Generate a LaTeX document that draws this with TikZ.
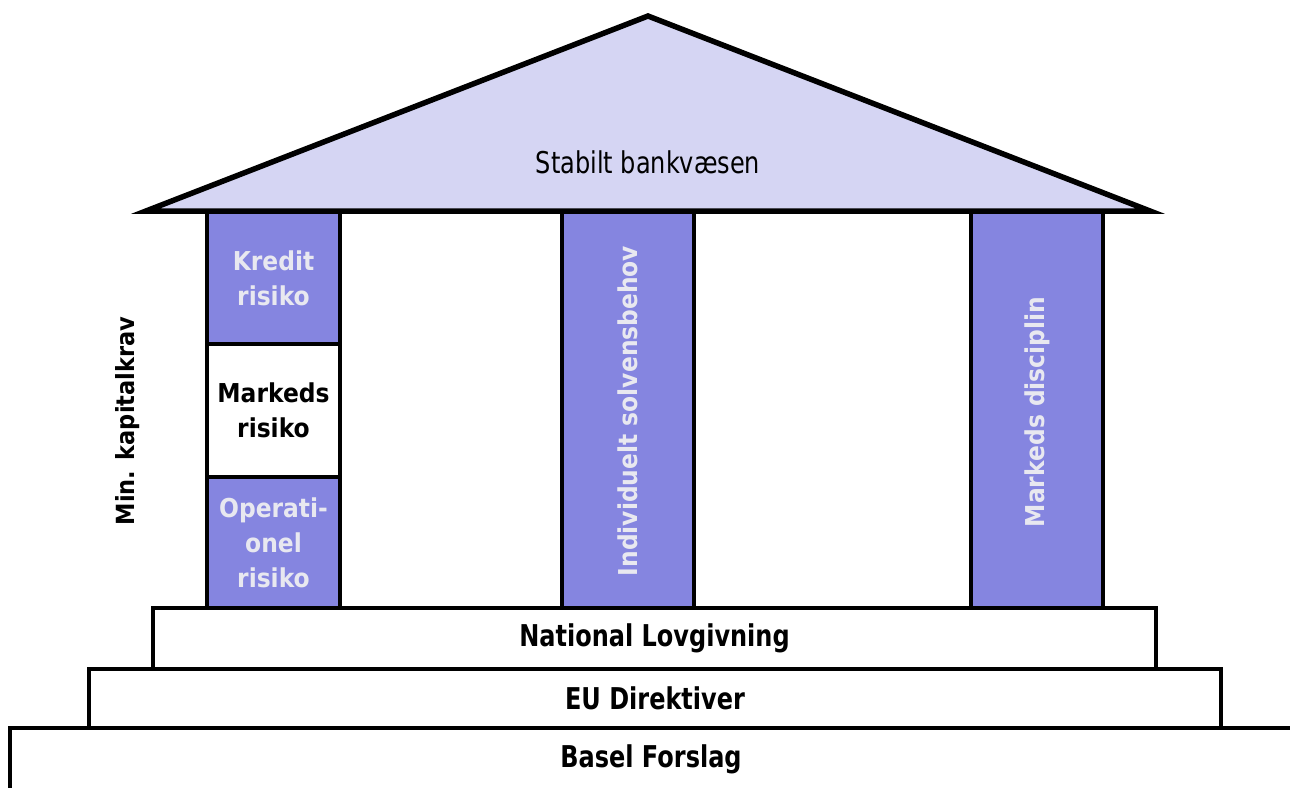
\documentclass[tikz,border=0pt]{standalone}
\usepackage{fontspec}
\setmainfont{DejaVu Sans}
\newfontfamily\condfont[FakeStretch=0.8]{DejaVu Sans}
\newfontfamily\narfont[FakeStretch=0.9]{DejaVu Sans}
\definecolor{roofc}{HTML}{D5D5F3}
\definecolor{colc}{HTML}{8585E0}
\definecolor{coltext}{HTML}{E8E8F0}
\begin{document}
\begin{tikzpicture}[x=1pt,y=-1pt,
  box/.style={draw=black, line width=4.5pt, inner sep=0pt, outer sep=0pt, anchor=north west, align=center},
  basebox/.style={box, fill=white, font=\condfont\fontsize{30}{34}\selectfont\bfseries},
  pillar/.style={box, fill=colc, text=coltext, font=\narfont\fontsize{26}{35}\selectfont\bfseries},
  whitepillar/.style={box, fill=white, text=black, font=\narfont\fontsize{26}{35}\selectfont\bfseries},
  vtext/.style={rotate=90, font=\narfont\fontsize{26}{34}\selectfont\bfseries},
  roofline/.style={draw=black, line width=5.5pt, fill=roofc, line join=miter}]
\useasboundingbox (0,0) rectangle (1290,787);
\clip (0,0) rectangle (1290,787);
% foundations
\node[basebox, minimum width=1300pt, minimum height=80pt] (basel) at (10,728) {};
\node[font=\condfont\fontsize{30}{34}\selectfont\bfseries] (baseltxt) at (651,759) {Basel Forslag};
\node[basebox, minimum width=1132pt, minimum height=59pt] (eu) at (89,669) {EU Direktiver};
\node[basebox, minimum width=1003pt, minimum height=61pt] (nat) at (153,608) {National Lovgivning};
% left pillar
\node[pillar, minimum width=133pt, minimum height=132pt] (kredit) at (207,212) {Kredit\\risiko};
\node[whitepillar, minimum width=133pt, minimum height=133pt] (markeds) at (207,344) {Markeds\\risiko};
\node[pillar, minimum width=133pt, minimum height=131pt] (oper) at (207,477) {Operati-\\onel\\risiko};
% middle and right pillars
\node[pillar, minimum width=132pt, minimum height=396pt] (indiv) at (562,212) {};
\node[vtext, text=coltext] (indivtxt) at (628,411) {Individuelt solvensbehov};
\node[pillar, minimum width=132pt, minimum height=396pt] (mdisc) at (971,212) {};
\node[vtext, text=coltext] (mdisctxt) at (1037,412) {Markeds disciplin};
% side label
\node[vtext, font=\narfont\fontsize{25}{34}\selectfont\bfseries] (minkap) at (128,421) {Min. kapitalkrav};
% roof
\coordinate (rl) at (146,211);
\coordinate (rt) at (648,16);
\coordinate (rr) at (1150,211);
\draw[roofline] (rl) -- (rt) -- (rr) -- cycle;
\node[font=\condfont\fontsize{30}{34}\selectfont] (roof) at (648,162) {Stabilt bankvæsen};
\end{tikzpicture}
\end{document}
